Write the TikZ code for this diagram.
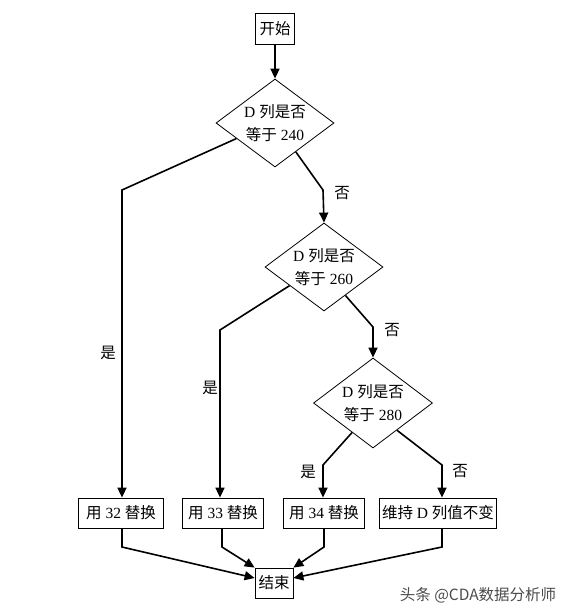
\documentclass[tikz,border=0pt]{standalone}
\usepackage{fontspec}
\setmainfont{Liberation Serif}
\newfontfamily\cjk{Noto Sans CJK SC}
\usetikzlibrary{shapes.geometric,calc,arrows.meta}
\begin{document}
\begin{tikzpicture}[x=1pt,y=-1pt,
  txt/.style={font=\fontsize{15.5pt}{24pt}\selectfont},
  box/.style={draw,line width=0.8pt,txt,inner xsep=8pt,inner ysep=0pt,minimum height=30pt},
  dia/.style={draw,line width=0.8pt,diamond,aspect=1.34,txt,align=center,inner sep=0pt,minimum width=118pt,minimum height=88pt},
  arr/.style={line width=1.6pt,-{Triangle[length=10pt,width=9pt]}},
  lab/.style={txt,inner sep=0pt}]
\useasboundingbox (0,0) rectangle (562,614);
\fill[white] (0,0) rectangle (562,614);
\node[box,minimum height=31pt,inner xsep=4pt] (start) at (275,29) {\cjk 开始};
\node[dia] (d1) at (275,123) {D {\cjk 列是否}\\[-1pt]{\cjk 等于} 240};
\node[dia] (d2) at (324,267) {D {\cjk 列是否}\\[-1pt]{\cjk 等于} 260};
\node[dia,minimum width=119pt,minimum height=90pt] (d3) at (373,403) {D {\cjk 列是否}\\[-1pt]{\cjk 等于} 280};
\node[box] (b1) at (121,513) {{\cjk 用} 32 {\cjk 替换}};
\node[box,inner xsep=6pt] (b2) at (223,513) {{\cjk 用} 33 {\cjk 替换}};
\node[box,inner xsep=6pt] (b3) at (324,513) {{\cjk 用} 34 {\cjk 替换}};
\node[box,inner xsep=2.5pt] (b4) at (438,513) {{\cjk 维持} D {\cjk 列值不变}};
\node[box,inner xsep=3.5pt] (e) at (274,583) {\cjk 结束};
\coordinate (c1l) at (122,190);
\coordinate (c1r) at (323,190);
\coordinate (c2l) at (220,330);
\coordinate (c2r) at (373,327);
\coordinate (c3l) at (323,465);
\coordinate (c3r) at (442,465);
\coordinate (m1) at (122,547);
\coordinate (m2) at (222,547);
\coordinate (m3) at (324,547);
\coordinate (m4) at (442,547);
\draw[arr] (start) -- (d1);
\draw[arr] ($(d1.west)!0.35!(d1.south)$) -- (c1l) -- (c1l |- b1.north);
\draw[arr] ($(d1.south)!0.35!(d1.east)$) -- (c1r) -- (d2.north);
\draw[arr] ($(d2.west)!0.42!(d2.south)$) -- (c2l) -- (c2l |- b2.north);
\draw[arr] ($(d2.south)!0.36!(d2.east)$) -- (c2r) -- (d3.north);
\draw[arr] ($(d3.west)!0.65!(d3.south)$) -- (c3l) -- (c3l |- b3.north);
\draw[arr] ($(d3.south)!0.4!(d3.east)$) -- (c3r) -- (c3r |- b4.north);
\draw[arr] (m1 |- b1.south) -- (m1) -- ([yshift=5pt]e.west);
\draw[arr] (m2 |- b2.south) -- (m2) -- (e.north west);
\draw[arr] (m3 |- b3.south) -- (m3) -- (e.north east);
\draw[arr] (m4 |- b4.south) -- (m4) -- ([yshift=5pt]e.east);
\node[lab] (l1) at (342,193) {\cjk 否};
\node[lab] (l2) at (392,330) {\cjk 否};
\node[lab] (l3) at (460,471) {\cjk 否};
\node[lab] (l4) at (108,353) {\cjk 是};
\node[lab] (l5) at (210,388) {\cjk 是};
\node[lab] (l6) at (308,472) {\cjk 是};
\node[inner sep=0pt,text=black!70,font=\fontsize{15.5pt}{17pt}\selectfont\cjk] (wm) at (478,595) {头条 @CDA数据分析师};
\end{tikzpicture}
\end{document}
